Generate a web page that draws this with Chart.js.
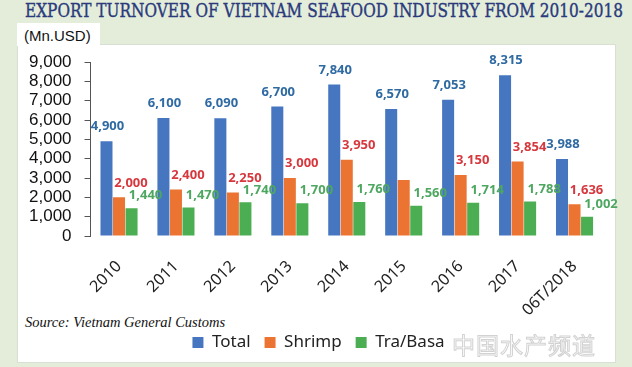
<!DOCTYPE html>
<html>
<head>
<meta charset="utf-8">
<script src="https://cdn.jsdelivr.net/npm/chart.js"></script>
<style>
  html, body { margin: 0; padding: 0; }
  body {
    width: 632px; height: 367px; overflow: hidden;
    background: #e4edda; position: relative;
  }
  .panel {
    position: absolute; left: 17px; top: 44px; width: 597px; height: 317px;
    background: #fff; border: 1px solid #d9e0d3;
  }
  .unit-box {
    position: absolute; left: 17px; top: 23px; width: 83px; height: 23px;
    background: #fff;
  }
  .unit {
    position: absolute; left: 24px; top: 27px;
    font: 15px "Liberation Sans", Arial, sans-serif; color: #111; line-height: 18px;
  }
  .title {
    position: absolute; left: 25px; top: 0px; white-space: nowrap;
    font: 19px "DejaVu Serif", serif; line-height: 20px; color: #2a3a7c;
    -webkit-text-stroke: 0.4px #2a3a7c;
    transform-origin: 0 0;
  }
  .source {
    position: absolute; left: 25px; top: 314px; white-space: nowrap;
    font: italic 14.5px "Liberation Serif", serif; color: #111;
  }
  .mark {
    position: absolute; left: 452px; top: 327px; white-space: nowrap;
    font: 23px "Noto Sans CJK SC", sans-serif; color: rgba(255,255,255,0.6);
    -webkit-text-stroke: 1px #d2d2d2; letter-spacing: 1px;
  }
  canvas { position: absolute; left: 0; top: 0; }
</style>
</head>
<body>
<div class="panel"></div>
<div class="unit-box"></div>
<div class="unit">(Mn.USD)</div>
<div class="title" id="title">EXPORT TURNOVER OF VIETNAM SEAFOOD INDUSTRY FROM 2010-2018</div>
<div class="source">Source: Vietnam General Customs</div>
<canvas id="chart" width="632" height="367"></canvas>
<div class="mark">中国水产频道</div>

<script>
// data
const categories = ['2010', '2011', '2012', '2013', '2014', '2015', '2016', '2017', '06T/2018'];
const total = [4900, 6100, 6090, 6700, 7840, 6570, 7053, 8315, 3988];
const shrimp = [2000, 2400, 2250, 3000, 3950, 2900, 3150, 3854, 1636];
const traBasa = [1440, 1470, 1740, 1700, 1760, 1560, 1714, 1788, 1002];
const yTicks = [0, 1000, 2000, 3000, 4000, 5000, 6000, 7000, 8000, 9000];
// the 2015 shrimp value has no label in the source picture
const unlabeled = { 1: ['2015'] };

// squeeze the title to its width in the picture
const t = document.getElementById('title');
t.style.transform = 'scaleX(' + (598 / t.scrollWidth) + ')';

const labelStyle = [
  { color: '#2f6aa3', dx: 1, dy: 8 },
  { color: '#d6383e', dx: 12, dy: 8 },
  { color: '#4ea760', dx: 14, dy: 6 }
];

const valueLabels = {
  id: 'valueLabels',
  afterLayout(chart) {
    // legend sits a little right of the plot centre in the picture
    chart.legend.left += 9;
    chart.legend.right += 9;
  },
  afterDatasetsDraw(chart) {
    const ctx = chart.ctx;
    ctx.save();
    ctx.font = 'bold 13px "Noto Sans", sans-serif';
    ctx.textAlign = 'center';
    ctx.textBaseline = 'bottom';
    chart.data.datasets.forEach((ds, di) => {
      const st = labelStyle[di];
      ctx.fillStyle = st.color;
      chart.getDatasetMeta(di).data.forEach((bar, i) => {
        if ((unlabeled[di] || []).includes(categories[i])) return;
        ctx.fillText(ds.data[i].toLocaleString('en-US'), bar.x + st.dx, bar.y - st.dy);
      });
    });
    ctx.restore();
  }
};

new Chart(document.getElementById('chart'), {
  type: 'bar',
  data: {
    labels: categories,
    datasets: [
      { label: 'Total', data: total, backgroundColor: '#4676c0' },
      { label: 'Shrimp', data: shrimp, backgroundColor: '#ec7432' },
      { label: 'Tra/Basa', data: traBasa, backgroundColor: '#4cae52' }
    ]
  },
  options: {
    responsive: false,
    animation: false,
    layout: { padding: { left: 16, right: 29, top: 62, bottom: 6 } },
    datasets: { bar: { barPercentage: 0.96, categoryPercentage: 0.66, borderWidth: 0 } },
    plugins: {
      legend: {
        position: 'bottom',
        labels: {
          boxWidth: 11, boxHeight: 11, padding: 14,
          color: '#222',
          font: { family: '"Noto Sans", sans-serif', size: 17 }
        }
      },
      tooltip: { enabled: false }
    },
    scales: {
      x: {
        grid: { display: false },
        border: { display: false },
        afterFit(scale) { scale.height = 84; },
        ticks: {
          autoSkip: false, minRotation: 45, maxRotation: 45, padding: 13,
          color: '#222',
          font: { family: '"Noto Sans", sans-serif', size: 16 }
        }
      },
      y: {
        min: 0, max: 9000,
        afterBuildTicks(scale) { scale.ticks = yTicks.map(v => ({ value: v })); },
        grid: { drawOnChartArea: false, drawTicks: true, tickLength: 6, color: '#555' },
        border: { display: true, color: '#555' },
        ticks: {
          autoSkip: false, padding: 13, color: '#111',
          font: { family: '"Liberation Sans", Arial, sans-serif', size: 17 },
          callback: v => v.toLocaleString('en-US')
        }
      }
    }
  },
  plugins: [valueLabels]
});
</script>
</body>
</html>
